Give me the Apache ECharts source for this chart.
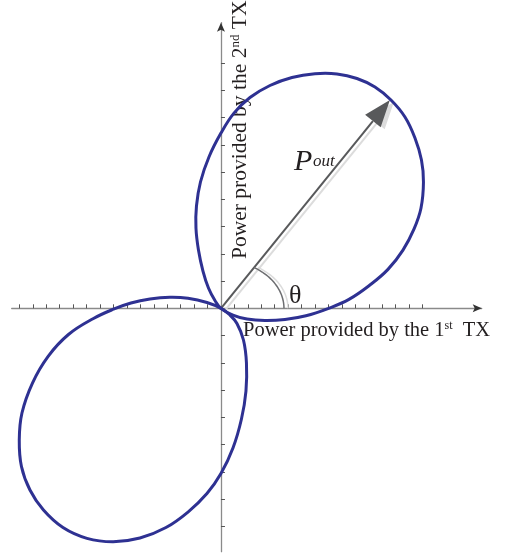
<!DOCTYPE html>
<html>
<head>
<meta charset="utf-8">
<script src="https://cdn.jsdelivr.net/npm/echarts@6/dist/echarts.min.js"></script>
<style>
  html, body { margin: 0; padding: 0; background: #fff; }
  #chart { width: 507px; height: 556px; }
</style>
</head>
<body>
<div id="chart"></div>
<script>
// Tick positions on the two power axes (one unit per tick)
const xTicks = [-15, -14, -13, -12, -11, -10, -9, -8, -7, -6, -5, -4, -3, -2, -1,
                1, 2, 3, 4, 5, 6, 7, 8, 9, 10, 11, 12, 13, 14, 15];
const yTicks = [-8, -7, -6, -5, -4, -3, -2, -1, 1, 2, 3, 4, 5, 6, 7, 8, 9];

// Upper-right lobe of the output power locus: [P1, P2]
const upperLobe = [
  [0, 0], [-0.446, 0.286], [-0.930, 0.745], [-1.339, 1.369], [-1.674, 2.139],
  [-1.860, 2.947], [-1.823, 3.754], [-1.525, 4.635], [-0.893, 5.552], [0, 6.429],
  [0.967, 7.163], [2.158, 7.736], [3.646, 8.176], [5.283, 8.470], [6.994, 8.606],
  [8.631, 8.598], [10.119, 8.433], [11.458, 8.121], [12.649, 7.644], [13.690, 7.020],
  [14.435, 6.250], [14.918, 5.442], [15.067, 4.635], [14.881, 3.670], [14.360, 2.903],
  [13.542, 2.136], [12.426, 1.428], [11.086, 0.855], [9.524, 0.327], [7.960, -0.010],
  [6.324, -0.275], [4.762, -0.411], [3.274, -0.448], [1.935, -0.393], [0.893, -0.246]
];

// Lower-left lobe of the output power locus: [P1, P2]
const lowerLobe = [
  [0, 0], [-1.042, 0.213], [-2.455, 0.367], [-3.795, 0.404], [-5.283, 0.341],
  [-6.696, 0.194], [-7.999, -0.033], [-9.487, -0.374], [-11.347, -0.961], [-12.872, -1.769],
  [-14.025, -2.741], [-14.807, -3.842], [-15.007, -4.833], [-14.844, -5.806], [-14.211, -6.668],
  [-13.207, -7.402], [-11.756, -8.044], [-9.970, -8.440], [-8.013, -8.565], [-6.027, -8.429],
  [-4.092, -8.044], [-2.455, -7.475], [-1.042, -6.796], [0, -6.062], [0.893, -5.127],
  [1.525, -4.062], [1.860, -3.035], [1.897, -2.007], [1.674, -1.163], [1.190, -0.558],
  [0.670, -0.246]
];

// Tip of the output power vector P_out
const pOutTip = [12.57, 7.64];

const X_MIN = -15.57, X_MAX = 19.40;
const Y_MIN = -8.93, Y_MAX = 10.48;

const SERIF = '"Liberation Serif", "Times New Roman", "DejaVu Serif", serif';
const INK = '#231f20';
const CURVE = '#2e3192';
const AXIS = '#8a8a8a';

const chart = echarts.init(document.getElementById('chart'), null, { renderer: 'canvas' });

// Closed smooth loop through the points of one lobe
function lobeRenderer(points) {
  return function (params, api) {
    if (params.dataIndex !== 0) return null;
    return {
      type: 'polygon',
      shape: { points: points.map(p => api.coord(p)), smooth: 0.4 },
      style: { fill: null, stroke: CURVE, lineWidth: 3, lineJoin: 'round' }
    };
  };
}

// Filled arrowhead whose tip sits at `tip`, pointing along (ux, uy)
function arrowHead(tip, ux, uy, len, half, notch, color) {
  const nx = -uy, ny = ux;
  const bx = tip[0] - ux * len, by = tip[1] - uy * len;
  return {
    type: 'polygon',
    shape: { points: [
      tip,
      [bx + nx * half, by + ny * half],
      [tip[0] - ux * (len - notch), tip[1] - uy * (len - notch)],
      [bx - nx * half, by - ny * half]
    ] },
    style: { fill: color }
  };
}

// Axis arrowheads, the P_out vector (with light drop shadow) and the angle mark theta
function renderVector(params, api) {
  const o = api.coord([0, 0]);
  const t = api.coord(pOutTip);
  const xEnd = api.coord([X_MAX, 0]);
  const yEnd = api.coord([0, Y_MAX]);
  const dx = t[0] - o[0], dy = t[1] - o[1];
  const len = Math.sqrt(dx * dx + dy * dy);
  const ux = dx / len, uy = dy / len;
  const headLen = 27, headHalf = 10;
  // angle mark: flattened arc from the P1 axis up to the vector
  const rx = 63, ry = 48;
  const sEnd = Math.atan((-dy / dx) * rx / ry);

  function vec(offX, offY, color) {
    const tip = [t[0] + offX, t[1] + offY];
    const base = [tip[0] - ux * headLen, tip[1] - uy * headLen];
    return [
      { type: 'line', shape: { x1: o[0] + offX, y1: o[1] + offY, x2: base[0], y2: base[1] },
        style: { stroke: color, lineWidth: 2 } },
      arrowHead(tip, ux, uy, headLen, headHalf, 0, color)
    ];
  }
  function arc(offX, offY, color) {
    const pts = [];
    const n = 32;
    for (let i = 0; i <= n; i++) {
      const s = sEnd * i / n;
      pts.push([o[0] + offX + rx * Math.cos(s), o[1] + offY - ry * Math.sin(s)]);
    }
    return { type: 'polyline', shape: { points: pts },
      style: { stroke: color, lineWidth: 1.5, fill: null } };
  }
  return {
    type: 'group',
    children: [
      arrowHead(xEnd, 1, 0, 9, 4, 2, '#333'),
      arrowHead(yEnd, 0, -1, 9, 4, 2, '#333'),
      ...vec(4, 2, '#dcdcdc'), arc(4, 0, '#dcdcdc'),
      ...vec(0, 0, '#58595b'), arc(0, 0, '#6d6e71')
    ]
  };
}

const option = {
  animation: false,
  backgroundColor: '#ffffff',
  grid: { left: 11.7, right: 25.3, top: 22.7, bottom: 4.3 },
  xAxis: {
    type: 'value', min: X_MIN, max: X_MAX,
    axisLine: { onZero: true, lineStyle: { color: AXIS, width: 1.3 } },
    axisTick: { show: true, inside: true, length: 4, customValues: xTicks,
      lineStyle: { color: '#555', width: 1 } },
    axisLabel: { show: false }, splitLine: { show: false }
  },
  yAxis: {
    type: 'value', min: Y_MIN, max: Y_MAX,
    axisLine: { onZero: true, lineStyle: { color: AXIS, width: 1.3 } },
    axisTick: { show: true, inside: true, length: 4, customValues: yTicks,
      lineStyle: { color: '#555', width: 1 } },
    axisLabel: { show: false }, splitLine: { show: false }
  },
  graphic: [
    { type: 'text', z: 1, x: 243, y: 320,
      style: { text: '{a|Power provided by the 1}{s|st}{a|  TX}', fill: INK,
        rich: {
          a: { fontFamily: SERIF, fontSize: 20.5, lineHeight: 22, fill: INK },
          s: { fontFamily: SERIF, fontSize: 12, lineHeight: 22, verticalAlign: 'top', fill: INK }
        } } },
    { type: 'text', z: 1, x: 229, y: 259, rotation: Math.PI / 2,
      style: { text: '{a|Power provided by the 2}{s|nd}{a| TX}', fill: INK,
        rich: {
          a: { fontFamily: SERIF, fontSize: 21.5, lineHeight: 22, fill: INK },
          s: { fontFamily: SERIF, fontSize: 13, lineHeight: 22, verticalAlign: 'top', fill: INK }
        } } },
    { type: 'text', z: 1, x: 294, y: 147,
      style: { text: 'P', font: 'italic 30px ' + SERIF, fill: INK, textVerticalAlign: 'alphabetic' } },
    { type: 'text', z: 1, x: 313, y: 153,
      style: { text: 'out', font: 'italic 17px ' + SERIF, fill: INK, textVerticalAlign: 'alphabetic' } },
    { type: 'text', z: 1, x: 289, y: 283,
      style: { text: 'θ', font: '26px ' + SERIF, fill: INK, textVerticalAlign: 'alphabetic' } }
  ],
  series: [
    { type: 'custom', z: 2, coordinateSystem: 'cartesian2d', renderItem: renderVector,
      data: [[0, 0]], silent: true },
    { type: 'custom', z: 3, coordinateSystem: 'cartesian2d', renderItem: lobeRenderer(upperLobe),
      data: upperLobe, silent: true },
    { type: 'custom', z: 3, coordinateSystem: 'cartesian2d', renderItem: lobeRenderer(lowerLobe),
      data: lowerLobe, silent: true }
  ]
};
chart.setOption(option);
</script>
</body>
</html>
